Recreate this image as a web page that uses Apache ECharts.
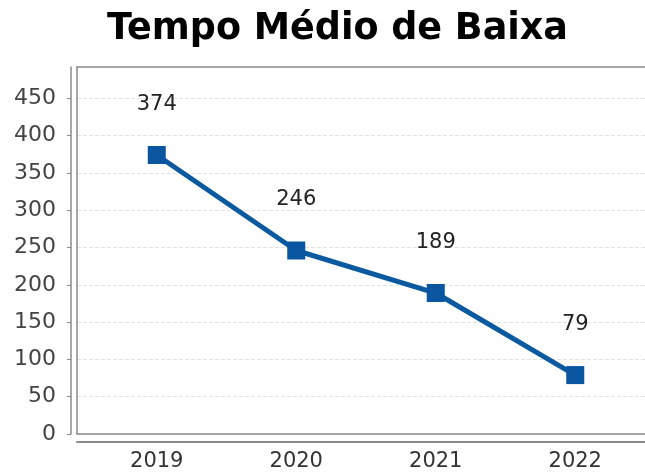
<!DOCTYPE html>
<html>
<head>
<meta charset="utf-8">
<script src="https://cdn.jsdelivr.net/npm/echarts@6/dist/echarts.min.js"></script>
<style>html,body{margin:0;padding:0;background:#fff;overflow:hidden;}#c{width:645px;height:474px;}</style>
</head>
<body>
<div id="c"></div>
<script>
var titleText = 'Tempo Médio de Baixa';
var categories = ['2019', '2020', '2021', '2022'];
var values = [374, 246, 189, 79];
var yMin = 0, yMax = 492, yStep = 50;

var chart = echarts.init(document.getElementById('c'), null, {renderer: 'canvas'});
var font = 'DejaVu Sans';
var borderColor = '#8a8a8a';
var boxGrid = {left: 77, right: 0, top: 67, bottom: 40, containLabel: false, outerBoundsMode: 'none'};
chart.setOption({
  backgroundColor: '#ffffff',
  animation: false,
  title: {
    text: titleText,
    left: 102, top: 6,
    textStyle: {fontFamily: font, fontSize: 36.5, fontWeight: 'bold', color: '#000'}
  },
  grid: [
    {left: 87, right: 0, top: 67, bottom: 40, show: false, z: 3, containLabel: false, outerBoundsMode: 'none'},
    Object.assign({show: true, borderWidth: 0, backgroundColor: '#ffffff', z: 0}, boxGrid),
    Object.assign({show: false}, boxGrid)
  ],
  xAxis: [
    {
      type: 'category', gridIndex: 0, data: categories, boundaryGap: true,
      offset: 8,
      axisLine: {show: false, onZero: false}, axisTick: {show: false}, splitLine: {show: false},
      axisLabel: {fontFamily: font, fontSize: 21, color: '#333', margin: 9}
    },
    {
      type: 'category', gridIndex: 1, data: categories, position: 'bottom',
      axisLine: {show: true, onZero: false, lineStyle: {color: borderColor, width: 1.5}},
      axisTick: {show: false}, axisLabel: {show: false}, splitLine: {show: false}
    },
    {
      type: 'category', gridIndex: 1, data: categories, position: 'top',
      axisLine: {show: true, onZero: false, lineStyle: {color: borderColor, width: 1.5}},
      axisTick: {show: false}, axisLabel: {show: false}, splitLine: {show: false}
    },
    {
      type: 'category', gridIndex: 2, data: categories, offset: 8, position: 'bottom',
      axisLine: {show: true, onZero: false, lineStyle: {color: borderColor, width: 2}},
      axisTick: {show: false}, axisLabel: {show: false}, splitLine: {show: false}
    }
  ],
  yAxis: [
    {
      type: 'value', gridIndex: 0, min: yMin, max: yMax, interval: yStep,
      show: false
    },
    {
      type: 'value', gridIndex: 1, min: yMin, max: yMax, interval: yStep,
      position: 'left',
      axisLine: {show: true, onZero: false, lineStyle: {color: borderColor, width: 1.5}},
      axisTick: {show: false}, axisLabel: {show: false},
      splitLine: {show: true, showMaxLine: false, showMinLine: false, lineStyle: {color: '#e2e2e2', type: 'dashed', width: 1}}
    },
    {
      type: 'value', gridIndex: 2, min: yMin, max: yMax, interval: yStep,
      offset: 6, position: 'left',
      axisLine: {show: true, onZero: false, lineStyle: {color: borderColor, width: 1.5}},
      axisTick: {show: true, length: 4, lineStyle: {color: borderColor}},
      axisLabel: {fontFamily: font, fontSize: 22, color: '#444', margin: 15, showMaxLabel: false},
      splitLine: {show: false}
    }
  ],
  series: [{
    type: 'line',
    xAxisIndex: 0, yAxisIndex: 0,
    data: values,
    symbol: 'rect',
    symbolSize: 18,
    lineStyle: {color: '#0b5aa0', width: 5},
    itemStyle: {color: '#0a56a0'},
    label: {
      show: true, position: 'top', distance: 31,
      fontFamily: font, fontSize: 21, color: '#222'
    },
    z: 5
  }]
});
</script>
</body>
</html>
